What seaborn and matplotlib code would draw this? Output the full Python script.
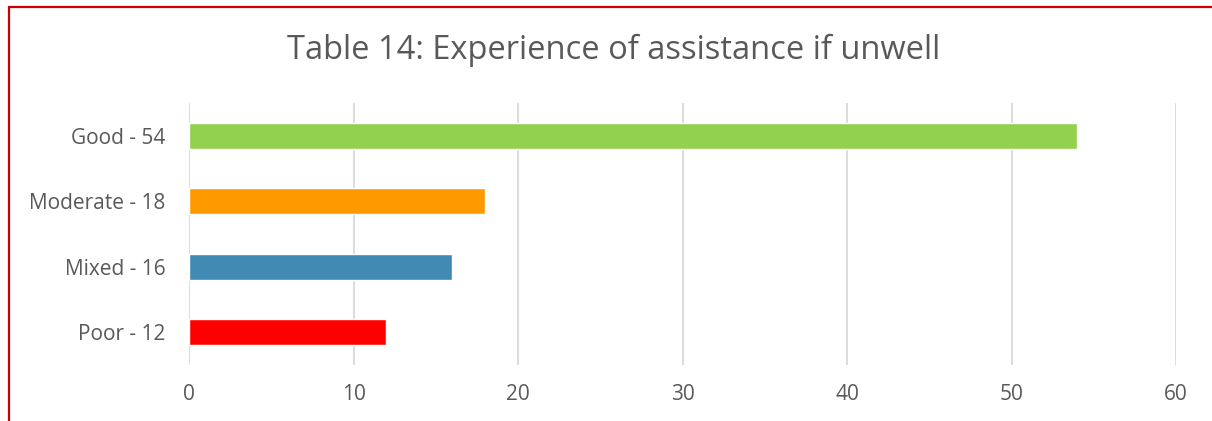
import matplotlib
matplotlib.use("Agg")
import matplotlib.pyplot as plt
from matplotlib.lines import Line2D
import seaborn as sns
import pandas as pd

categories = ["Good - 54", "Moderate - 18", "Mixed - 16", "Poor - 12"]
counts = [54, 18, 16, 12]
colors = ["#92D050", "#FF9900", "#418AB3", "#FF0000"]
x_ticks = [0, 10, 20, 30, 40, 50, 60]

sns.set_theme(style="white")
plt.rcParams["font.family"] = ["Open Sans", "DejaVu Sans"]

df = pd.DataFrame({"category": categories, "count": counts})

fig = plt.figure(figsize=(12.12, 4.21), dpi=100)
ax = fig.add_axes([0.156, 0.133, 0.8143, 0.6222])

sns.barplot(data=df, x="count", y="category", hue="category",
            palette=colors, orient="h", width=0.4, legend=False,
            saturation=1, ax=ax)

ax.set_xlim(0, 60)
ax.set_xticks(x_ticks)
ax.set_xticklabels([str(t) for t in x_ticks])
ax.set_xlabel("")
ax.set_ylabel("")
for s in ax.spines.values():
    s.set_visible(False)
ax.xaxis.grid(True, color="#D9D9D9", linewidth=1.3)
ax.set_axisbelow(True)
ax.tick_params(axis="both", length=0, labelsize=15, colors="#595959")
ax.tick_params(axis="x", pad=14)
ax.tick_params(axis="y", pad=17)

fig.text(0.506, 0.88, "Table 14: Experience of assistance if unwell",
         ha="center", va="center", fontsize=23.5, color="#595959")

# Red frame on the top and left edges
fig.add_artist(Line2D([8.5 / 1212, 8.5 / 1212], [0, 1 - 6.5 / 421],
                      transform=fig.transFigure, color="#CC0000", linewidth=1.6))
fig.add_artist(Line2D([8.5 / 1212, 1], [1 - 6.5 / 421, 1 - 6.5 / 421],
                      transform=fig.transFigure, color="#CC0000", linewidth=1.6))

fig.savefig("out.png", dpi=100)
